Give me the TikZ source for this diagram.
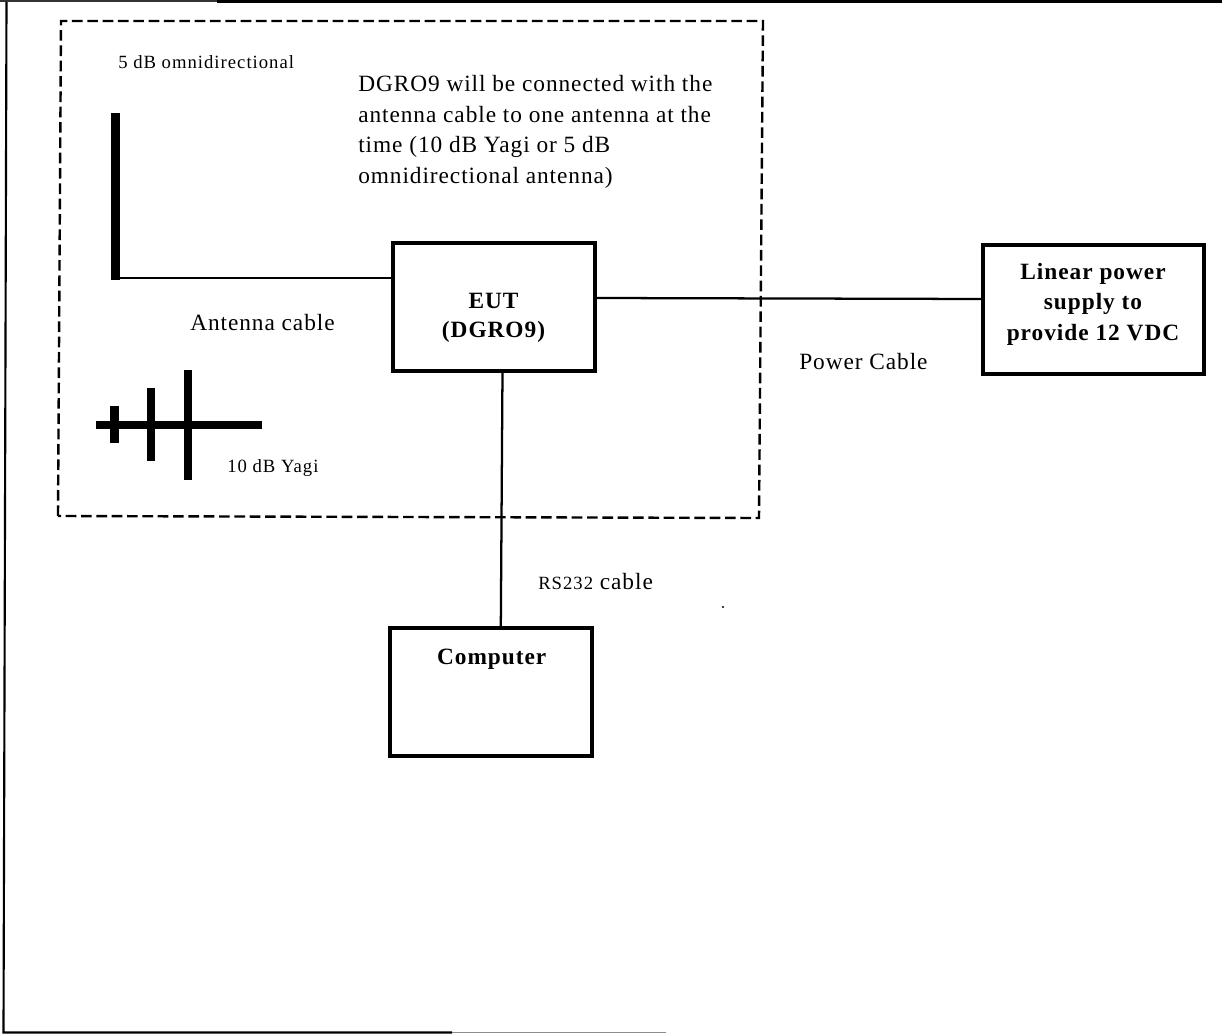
\documentclass[tikz,border=0pt]{standalone}
\usepackage{fontspec}
\setmainfont{Liberation Serif}
\newfontfamily\widefont[LetterSpace=4]{Liberation Serif}
\newfontfamily\smallfont[LetterSpace=5.4]{Liberation Serif}
\newfontfamily\widebold[LetterSpace=4.2,BoldFont={Liberation Serif Bold}]{Liberation Serif}
\tikzset{
  x=0.75pt,y=-0.75pt,
  boxnode/.style={draw=black,line width=3pt,outer sep=0pt,inner sep=0pt,minimum width=#1*0.75pt},
  boxnode/.default=202,
  lbl/.style={inner sep=0pt,anchor=base west,font=\fontsize{17.5}{21}\widefont},
  smalllbl/.style={inner sep=0pt,anchor=base west,font=\fontsize{14}{16}\smallfont},
  boldtxt/.style={inner sep=0pt,align=center,font=\fontsize{17.5}{#1}\widebold\bfseries},
  boldtxt/.default=22.9,
  wire/.style={draw=black,line width=1.7pt},
  bar/.style={draw=black,line width=6.2pt},
  frameline/.style={draw=black,line width=1.6pt},
}
\begin{document}
\begin{tikzpicture}
\useasboundingbox (0,0) rectangle (1222,1034);
% page frame
\draw[frameline] (6.5,1) -- (3.5,1032.5) -- (452,1032.5);
\draw[draw=black!80,line width=1.5pt] (0,0.8) -- (217,0.8);
\draw[draw=black,line width=2.6pt] (217,1.5) -- (1222,1.5);
\draw[draw=black!45,line width=1.2pt] (452,1032.5) -- (666,1032.5);
% dashed region
\draw[line width=1.8pt,dash pattern=on 8pt off 3.5pt] (58,516) -- (61,21) -- (763,21) -- (759,518) -- cycle;
% boxes
\node[boxnode=202,minimum height=127.5*0.75pt] (eut) at (494,307.25) {};
\node[boxnode=221,minimum height=129*0.75pt] (lps) at (1093.5,309.5) {};
\node[boxnode=202,minimum height=128*0.75pt] (comp) at (491,692) {};
% box texts
\node[boldtxt=21.75] (euttxt) at (493.5,317.5) {EUT\\(DGRO9)};
\node[boldtxt] (lpstxt) at (1093,304) {Linear power\\supply to\\provide 12 VDC};
\node[boldtxt,anchor=base] (comptxt) at (491.7,664) {Computer};
% antennas and wires
\coordinate (omniT) at (115.5,113);
\coordinate (omniB) at (115.5,280);
\coordinate (omniJ) at (114,278);
\coordinate (pwA) at (0,298);
\coordinate (pwB) at (0,299);
\coordinate (rsA) at (502.5,0);
\coordinate (rsB) at (500.8,0);
\draw[bar] (omniT) -- (omniB);
\draw[wire] (omniJ) -- (eut.west |- omniJ);
\draw[wire] (eut.east |- pwA) -- (lps.west |- pwB);
\draw[wire] (rsA |- eut.south) -- (rsB |- comp.north);
% yagi
\coordinate (boomL) at (96,425);
\coordinate (boomR) at (262,425);
\draw[bar,line width=6pt] (boomL) -- (boomR);
\draw[bar] (114.5,406) -- (114.5,443);
\draw[bar] (151,388) -- (151,461);
\draw[bar] (188,370) -- (188,480);
% labels
\node[smalllbl] (t1) at (118,69) {5 dB omnidirectional};
\node[smalllbl] (t2) at (227,473) {10 dB Yagi};
\node[lbl] (t3) at (358,92) {DGRO9 will be connected with the};
\node[lbl] (t4) at (358,122.5) {antenna cable to one antenna at the};
\node[lbl] (t5) at (358,153) {time (10 dB Yagi or 5 dB};
\node[lbl] (t6) at (358,183.5) {omnidirectional antenna)};
\node[lbl] (t7) at (190,331) {Antenna cable};
\node[lbl] (t8) at (799,370) {Power Cable};
\node[lbl] (t9) at (538,589) {{\fontsize{14}{16}\smallfont RS232} cable};
\fill (723,607) circle (1.2);
\end{tikzpicture}
\end{document}
